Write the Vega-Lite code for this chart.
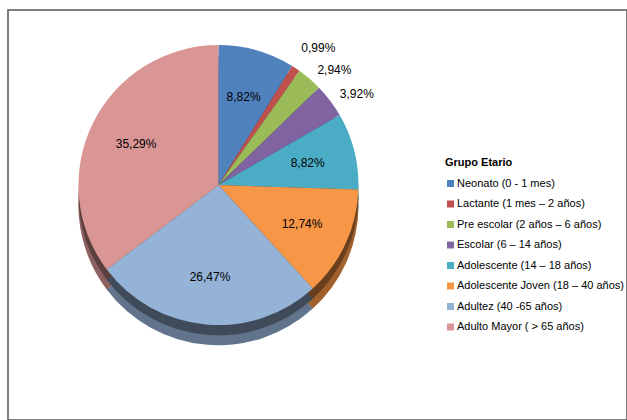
{
  "$schema": "https://vega.github.io/schema/vega-lite/v6.json",
  "width": 619,
  "height": 410,
  "autosize": {"type": "none"},
  "padding": {"left": 8, "top": 10, "right": 0, "bottom": 0},
  "config": {
    "view": {"stroke": "#555555", "strokeWidth": 1.5},
    "font": "Liberation Sans"
  },
  "data": {
    "values": [
      {"grupo": "Neonato (0 - 1 mes)", "v": 8.82, "label": "8,82%", "orden": 1},
      {"grupo": "Lactante (1 mes – 2 años)", "v": 0.99, "label": "0,99%", "orden": 2},
      {"grupo": "Pre escolar (2 años – 6 años)", "v": 2.94, "label": "2,94%", "orden": 3},
      {"grupo": "Escolar (6 – 14 años)", "v": 3.92, "label": "3,92%", "orden": 4},
      {"grupo": "Adolescente (14 – 18 años)", "v": 8.82, "label": "8,82%", "orden": 5},
      {"grupo": "Adolescente Joven (18 – 40 años)", "v": 12.74, "label": "12,74%", "orden": 6},
      {"grupo": "Adultez (40 -65 años)", "v": 26.47, "label": "26,47%", "orden": 7},
      {"grupo": "Adulto Mayor ( > 65 años)", "v": 35.29, "label": "35,29%", "orden": 8}
    ]
  },
  "encoding": {
    "theta": {"field": "v", "type": "quantitative", "stack": true},
    "order": {"field": "orden", "type": "quantitative"},
    "x": {"datum": 0.34, "type": "quantitative", "scale": {"domain": [0, 1]}, "axis": null},
    "color": {
      "field": "grupo",
      "type": "nominal",
      "sort": null,
      "scale": {
        "domain": ["Neonato (0 - 1 mes)", "Lactante (1 mes – 2 años)", "Pre escolar (2 años – 6 años)", "Escolar (6 – 14 años)", "Adolescente (14 – 18 años)", "Adolescente Joven (18 – 40 años)", "Adultez (40 -65 años)", "Adulto Mayor ( > 65 años)"],
        "range": ["#4F81BD", "#C0504D", "#9BBB59", "#8064A2", "#4BACC6", "#F79646", "#95B3D7", "#D99694"]
      },
      "legend": {
        "orient": "none",
        "legendX": 437,
        "legendY": 147,
        "title": "Grupo Etario",
        "titleFont": "Liberation Sans",
        "titleFontSize": 11,
        "titleFontWeight": "bold",
        "titleColor": "#000000",
        "titlePadding": 10,
        "labelFont": "Liberation Sans",
        "labelFontSize": 11,
        "labelColor": "#000000",
        "labelLimit": 300,
        "labelOffset": 1,
        "symbolType": "square",
        "symbolSize": 49,
        "symbolStrokeWidth": 0,
        "rowPadding": 8.5
      }
    }
  },
  "layer": [
    {
      "mark": {"type": "arc", "radius": 140, "stroke": null},
      "encoding": {"y": {"datum": 0.476, "type": "quantitative", "scale": {"domain": [0, 1], "reverse": true}, "axis": null}}
    },
    {
      "mark": {"type": "arc", "radius": 140, "stroke": null},
      "encoding": {"y": {"datum": 0.452, "type": "quantitative", "scale": {"domain": [0, 1], "reverse": true}, "axis": null}}
    },
    {
      "mark": {"type": "arc", "radius": 140, "fill": "#000000", "opacity": 0.35, "stroke": null},
      "encoding": {"y": {"datum": 0.476, "type": "quantitative", "scale": {"domain": [0, 1], "reverse": true}, "axis": null}}
    },
    {
      "mark": {"type": "arc", "radius": 140, "fill": "#000000", "opacity": 0.35, "stroke": null},
      "encoding": {"y": {"datum": 0.452, "type": "quantitative", "scale": {"domain": [0, 1], "reverse": true}, "axis": null}}
    },
    {
      "mark": {"type": "arc", "radius": 140, "stroke": null},
      "encoding": {"y": {"datum": 0.427, "type": "quantitative", "scale": {"domain": [0, 1], "reverse": true}, "axis": null}}
    },
    {
      "mark": {"type": "text", "radius": 92, "fontSize": 12, "font": "Liberation Sans"},
      "encoding": {
        "y": {"datum": 0.427, "type": "quantitative", "scale": {"domain": [0, 1], "reverse": true}, "axis": null},
        "text": {"condition": {"test": "datum.orden >= 2 && datum.orden <= 4", "value": ""}, "field": "label"},
        "color": {"value": "#000000"}
      }
    },
    {
      "mark": {"type": "text", "radius": 150, "dy": -12, "align": "left", "fontSize": 12, "font": "Liberation Sans"},
      "encoding": {
        "y": {"datum": 0.427, "type": "quantitative", "scale": {"domain": [0, 1], "reverse": true}, "axis": null},
        "text": {"condition": {"test": "datum.orden == 2", "field": "label"}, "value": ""},
        "color": {"value": "#000000"}
      }
    },
    {
      "mark": {"type": "text", "radius": 152, "align": "left", "fontSize": 12, "font": "Liberation Sans"},
      "encoding": {
        "y": {"datum": 0.427, "type": "quantitative", "scale": {"domain": [0, 1], "reverse": true}, "axis": null},
        "text": {"condition": {"test": "datum.orden == 3 || datum.orden == 4", "field": "label"}, "value": ""},
        "color": {"value": "#000000"}
      }
    }
  ]
}
